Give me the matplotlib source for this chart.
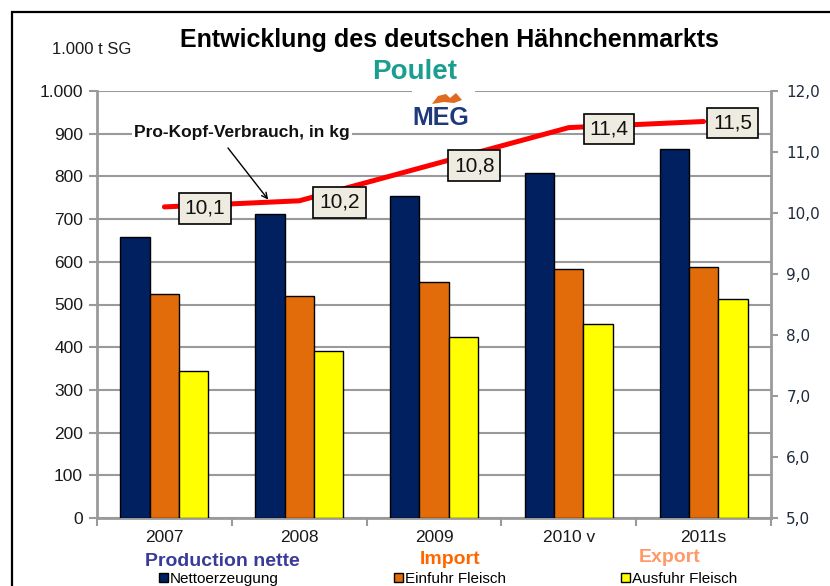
import matplotlib.pyplot as plt
from matplotlib.patches import Rectangle, Polygon
import numpy as np

years = ['2007', '2008', '2009', '2010 v', '2011s']
netto = [657, 712, 755, 808, 863]
einfuhr = [524, 520, 552, 584, 588]
ausfuhr = [344, 392, 423, 455, 512]
verbrauch = [10.1, 10.2, 10.8, 11.4, 11.5]
verbrauch_labels = ['10,1', '10,2', '10,8', '11,4', '11,5']

arial = ['Liberation Sans', 'DejaVu Sans']
grid_c = '#9a9a9a'

W, H = 830, 586
fig = plt.figure(figsize=(W / 100, H / 100), dpi=100)


def fp(x, y):
    # pixel position -> figure fraction
    return x / W, 1 - y / H


ax = fig.add_axes([97 / W, 1 - 518 / H, (771 - 97) / W, (518 - 91) / H])
x = np.arange(len(years))
bw = 0.218
b1 = ax.bar(x - bw, netto, bw, color='#002060', edgecolor='black', lw=1, label='Nettoerzeugung', zorder=3)
b2 = ax.bar(x, einfuhr, bw, color='#E36C0A', edgecolor='black', lw=1, label='Einfuhr Fleisch', zorder=3)
b3 = ax.bar(x + bw, ausfuhr, bw, color='#FFFF00', edgecolor='black', lw=1, label='Ausfuhr Fleisch', zorder=3)

ax.set_xlim(-0.5, len(years) - 0.5)
ax.set_ylim(0, 1000)
ax.set_yticks(range(0, 1001, 100))
ax.set_yticklabels(['1.000' if v == 1000 else str(v) for v in range(0, 1001, 100)],
                   family=arial, fontsize=12.5, color='#1a1a1a')
ax.yaxis.grid(True, color=grid_c, lw=1.5, zorder=0)
ax.set_xticks(x)
ax.set_xticklabels(years, family=arial, fontsize=12.5, color='#1a1a1a')
ax.set_xticks(np.arange(-0.5, len(years)), minor=True)
ax.tick_params(axis='x', which='major', length=0, pad=9)
ax.tick_params(axis='x', which='minor', length=6, color=grid_c, width=1.5)
ax.tick_params(axis='y', length=6, color=grid_c, width=1.5, pad=4)
for s in ax.spines.values():
    s.set_color(grid_c)
    s.set_linewidth(2)
ax.spines['top'].set_visible(False)

ax2 = ax.twinx()
ax2.set_ylim(5, 12)
ax2.set_yticks(np.arange(5, 12.1, 1))
ax2.set_yticklabels([f'{v:.1f}'.replace('.', ',') for v in np.arange(5, 12.1, 1)],
                    family='DejaVu Sans', fontsize=11, color='#1f2a3a')
ax2.tick_params(axis='y', length=5, color=grid_c, width=1.5, pad=6)
for s in ax2.spines.values():
    s.set_visible(False)
ax2.plot(x, verbrauch, color='#FF0000', lw=3.6, solid_capstyle='round', zorder=4)
for i, (v, lab) in enumerate(zip(verbrauch, verbrauch_labels)):
    dx = 21 if i == len(years) - 1 else 29
    ax2.annotate(lab, (x[i], v), xytext=(dx, -1), textcoords='offset points',
                 ha='center', va='center', family=arial, fontsize=15, color='#111',
                 bbox=dict(boxstyle='square,pad=0.28', fc='#EEECE1', ec='black', lw=1.2), zorder=6)

# annotation of the line
fig.text(*fp(242, 133), 'Pro-Kopf-Verbrauch, in kg', ha='center', va='center',
         family=arial, fontsize=12.5, weight='bold', color='#111',
         bbox=dict(boxstyle='square,pad=0.15', fc='white', ec='none'))
ax2.annotate('', xy=(0.77, 10.22), xytext=(228, H - 148), textcoords='figure pixels',
             arrowprops=dict(arrowstyle='->', color='black', lw=1, shrinkA=0, shrinkB=0))

# titles
fig.text(*fp(449, 40), 'Entwicklung des deutschen Hähnchenmarkts', ha='center', va='center',
         family=arial, fontsize=18, weight='bold', color='black')
fig.text(*fp(415, 72), 'Poulet', ha='center', va='center',
         family=arial, fontsize=20, weight='bold', color='#1A9E8F')
fig.text(*fp(92, 50), '1.000 t SG', ha='center', va='center',
         family=arial, fontsize=12, color='#1a1a1a')

# MEG logo
fig.patches.append(Rectangle(fp(412, 132), 63 / W, 45 / H, transform=fig.transFigure,
                             fc='white', ec='none', zorder=5))
fig.text(*fp(441, 118), 'MEG', ha='center', va='center', family=arial,
         fontsize=18, weight='bold', color='#1F3A7A', zorder=6)
flame = [(432, 104), (438, 96), (446, 94), (450, 98), (456, 93), (462, 100), (454, 103), (444, 102)]
fig.patches.append(Polygon([fp(a, b) for a, b in flame], closed=True, transform=fig.transFigure,
                           fc='#E06A20', ec='none', zorder=6))

# labels under the chart
fig.text(*fp(222, 561), 'Production nette', ha='center', va='center',
         family=arial, fontsize=14, weight='bold', color='#3A3A9A')
fig.text(*fp(450, 560), 'Import', ha='center', va='center',
         family=arial, fontsize=14, weight='bold', color='#FF6600')
fig.text(*fp(670, 558), 'Export', ha='center', va='center',
         family=arial, fontsize=14, weight='bold', color='#FF9966')

fig.legend(handles=[b1, b2, b3], loc='center left', bbox_to_anchor=fp(151, 579), ncol=3,
           frameon=False, handlelength=0.6, handleheight=0.6, handletextpad=0.15,
           columnspacing=7.5, borderpad=0, prop=dict(family=arial, size=11))

# outer frame
fig.patches.append(Rectangle(fp(12, 600), 1, (600 - 12) / H, transform=fig.transFigure,
                             fill=False, ec='black', lw=1.6))

fig.savefig('out.png', dpi=100)
